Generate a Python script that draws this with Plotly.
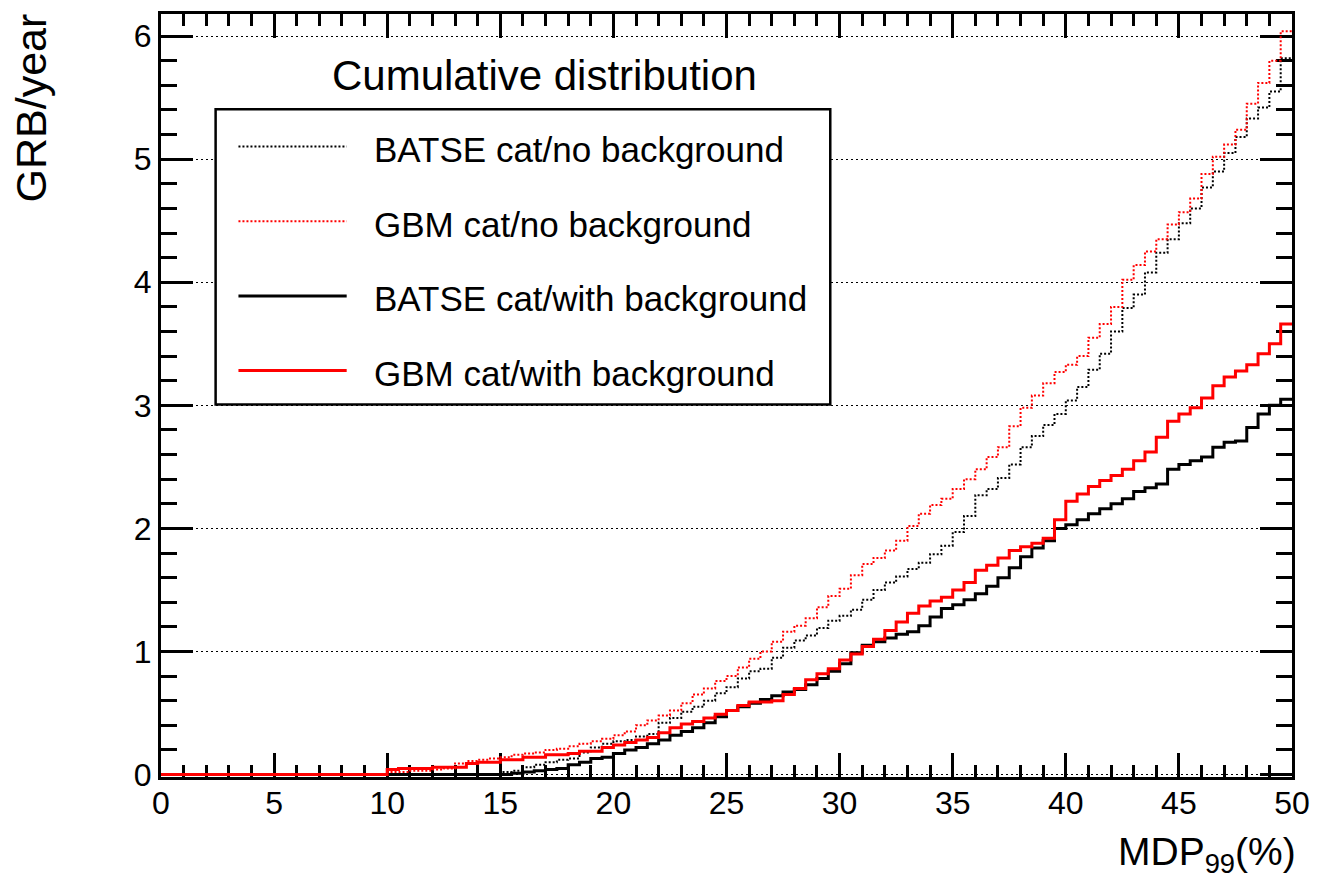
import plotly.graph_objects as go

# ---------------- data ----------------
# lower edges of the 0.5-wide MDP99 bins, 0 ... 49.5
mdp_bin_lo = [0.5 * i for i in range(100)]
mdp_max = 50.0

# BATSE catalogue, no background (black dotted)
batse_nobkg = [
    0.00, 0.00, 0.00, 0.00, 0.00, 0.00, 0.00, 0.00, 0.00, 0.00,
    0.00, 0.00, 0.00, 0.00, 0.00, 0.00, 0.00, 0.00, 0.00, 0.00,
    0.00, 0.00, 0.00, 0.00, 0.00, 0.00, 0.00, 0.00, 0.00, 0.00,
    0.02, 0.03, 0.06, 0.08, 0.10, 0.12, 0.13, 0.18, 0.22, 0.25,
    0.27, 0.28, 0.31, 0.33, 0.42, 0.46, 0.51, 0.55, 0.60, 0.66,
    0.71, 0.78, 0.84, 0.86, 0.95, 1.03, 1.09, 1.13, 1.19, 1.25,
    1.29, 1.34, 1.42, 1.50, 1.56, 1.61, 1.67, 1.72, 1.79, 1.86,
    1.97, 2.10, 2.27, 2.32, 2.41, 2.52, 2.66, 2.75, 2.84, 2.93,
    3.04, 3.15, 3.29, 3.42, 3.60, 3.79, 3.90, 4.08, 4.24, 4.35,
    4.48, 4.60, 4.77, 4.90, 5.05, 5.18, 5.33, 5.42, 5.55, 5.82,
]

# GBM catalogue, no background (red dotted)
gbm_nobkg = [
    0.00, 0.00, 0.00, 0.00, 0.00, 0.00, 0.00, 0.00, 0.00, 0.00,
    0.00, 0.00, 0.00, 0.00, 0.00, 0.00, 0.00, 0.00, 0.00, 0.00,
    0.02, 0.02, 0.03, 0.03, 0.04, 0.05, 0.09, 0.11, 0.12, 0.13,
    0.14, 0.16, 0.17, 0.18, 0.20, 0.21, 0.23, 0.25, 0.27, 0.29,
    0.32, 0.35, 0.40, 0.44, 0.48, 0.52, 0.58, 0.65, 0.70, 0.76,
    0.80, 0.87, 0.94, 1.00, 1.08, 1.16, 1.21, 1.27, 1.36, 1.45,
    1.51, 1.62, 1.71, 1.76, 1.82, 1.90, 2.02, 2.12, 2.19, 2.24,
    2.32, 2.40, 2.48, 2.58, 2.66, 2.83, 2.98, 3.08, 3.18, 3.27,
    3.33, 3.40, 3.55, 3.66, 3.80, 4.02, 4.14, 4.25, 4.35, 4.47,
    4.57, 4.68, 4.88, 5.02, 5.12, 5.24, 5.45, 5.62, 5.80, 6.04,
]

# BATSE catalogue, with background (black solid)
batse_bkg = [
    0.00, 0.00, 0.00, 0.00, 0.00, 0.00, 0.00, 0.00, 0.00, 0.00,
    0.00, 0.00, 0.00, 0.00, 0.00, 0.00, 0.00, 0.00, 0.00, 0.00,
    0.00, 0.00, 0.00, 0.00, 0.00, 0.00, 0.00, 0.00, 0.00, 0.00,
    0.00, 0.01, 0.02, 0.03, 0.04, 0.05, 0.08, 0.10, 0.13, 0.14,
    0.17, 0.20, 0.22, 0.25, 0.28, 0.32, 0.35, 0.38, 0.42, 0.47,
    0.52, 0.55, 0.58, 0.61, 0.64, 0.67, 0.69, 0.73, 0.78, 0.84,
    0.90, 0.99, 1.05, 1.08, 1.11, 1.14, 1.16, 1.21, 1.28, 1.35,
    1.38, 1.42, 1.47, 1.53, 1.60, 1.68, 1.77, 1.84, 1.90, 2.00,
    2.03, 2.07, 2.12, 2.16, 2.20, 2.24, 2.30, 2.33, 2.36, 2.48,
    2.52, 2.55, 2.58, 2.66, 2.70, 2.71, 2.82, 2.93, 3.00, 3.05,
]

# GBM catalogue, with background (red solid)
gbm_bkg = [
    0.00, 0.00, 0.00, 0.00, 0.00, 0.00, 0.00, 0.00, 0.00, 0.00,
    0.00, 0.00, 0.00, 0.00, 0.00, 0.00, 0.00, 0.00, 0.00, 0.00,
    0.04, 0.05, 0.05, 0.05, 0.06, 0.06, 0.06, 0.09, 0.10, 0.10,
    0.12, 0.12, 0.14, 0.14, 0.16, 0.16, 0.17, 0.19, 0.19, 0.22,
    0.24, 0.26, 0.28, 0.30, 0.34, 0.38, 0.41, 0.43, 0.46, 0.49,
    0.52, 0.56, 0.59, 0.59, 0.60, 0.65, 0.70, 0.77, 0.82, 0.86,
    0.93, 0.98, 1.04, 1.10, 1.17, 1.24, 1.31, 1.37, 1.41, 1.44,
    1.50, 1.56, 1.66, 1.70, 1.76, 1.82, 1.85, 1.88, 1.92, 2.07,
    2.22, 2.28, 2.34, 2.39, 2.43, 2.48, 2.55, 2.62, 2.74, 2.87,
    2.93, 2.98, 3.06, 3.16, 3.23, 3.28, 3.33, 3.42, 3.50, 3.66,
]

series_names = [
    "BATSE cat/no background",
    "GBM cat/no background",
    "BATSE cat/with background",
    "GBM cat/with background",
]
x_title = "MDP<sub>99</sub>(%)"
y_title = "GRB/year"
plot_title = "Cumulative distribution"
x_ticks = [0, 5, 10, 15, 20, 25, 30, 35, 40, 45, 50]
y_ticks = [0, 1, 2, 3, 4, 5, 6]

# ---------------- figure ----------------
W, H = 1321, 891
ML, MR, MT, MB = 161, 21, 11, 114
PW, PH = W - ML - MR, H - MT - MB
FONT = "Liberation Sans, Arial, Helvetica, sans-serif"


def px_x(px):
    return (px - ML) / PW


def px_y(py):
    return (H - MB - py) / PH


styles = [
    dict(color="#000000", width=2, dash="2px,2px"),
    dict(color="#ff0000", width=2, dash="2px,2px"),
    dict(color="#000000", width=3, dash="solid"),
    dict(color="#ff0000", width=3, dash="solid"),
]
all_series = [batse_nobkg, gbm_nobkg, batse_bkg, gbm_bkg]

fig = go.Figure()
xs = mdp_bin_lo + [mdp_max]
for name, vals, st in zip(series_names, all_series, styles):
    fig.add_trace(go.Scatter(
        x=xs, y=vals + [vals[-1]], mode="lines", name=name,
        line=dict(shape="hv", **st), showlegend=False, hoverinfo="skip",
    ))

axis_common = dict(
    showline=True, linecolor="black", linewidth=3, mirror="allticks",
    ticks="inside", tickcolor="black", tickwidth=2.5,
    zeroline=False, layer="below traces",
    tickfont=dict(family=FONT, size=32, color="black"),
)

fig.update_xaxes(
    range=[0, 50], tickvals=x_ticks, ticklen=24, showgrid=False,
    ticklabelstandoff=-4,
    minor=dict(ticks="inside", dtick=1, ticklen=12, tickwidth=2.5,
               tickcolor="black", showgrid=False),
    **axis_common,
)
fig.update_yaxes(
    range=[-0.02, 6.18], tickvals=y_ticks, ticklen=32,
    showgrid=True, gridcolor="black", gridwidth=1, griddash="2px,3px",
    minor=dict(ticks="inside", dtick=0.2, ticklen=16, tickwidth=2.5,
               tickcolor="black", showgrid=False),
    **axis_common,
)

# ----- legend box (drawn by hand to match the ROOT style) -----
shapes = [dict(
    type="rect", xref="paper", yref="paper",
    x0=px_x(216), x1=px_x(835), y0=px_y(403), y1=px_y(106.5),
    line=dict(color="black", width=2.5), fillcolor="white", layer="above",
)]
annotations = []
row_y = [144, 219, 294, 369]
for name, st, ry in zip(series_names, styles, row_y):
    shapes.append(dict(
        type="line", xref="paper", yref="paper",
        x0=px_x(239), x1=px_x(348), y0=px_y(ry), y1=px_y(ry),
        line=dict(color=st["color"], width=st["width"], dash=st["dash"]),
        layer="above",
    ))
    annotations.append(dict(
        text=name, xref="paper", yref="paper", x=px_x(373), y=px_y(ry + 3),
        xanchor="left", yanchor="middle", showarrow=False,
        font=dict(family=FONT, size=35, color="black"),
    ))

annotations.append(dict(
    text=plot_title, xref="paper", yref="paper", x=px_x(547), y=px_y(73),
    xanchor="center", yanchor="middle", showarrow=False,
    font=dict(family=FONT, size=42, color="black"),
))
annotations.append(dict(
    text=y_title, xref="paper", yref="paper", x=px_x(30), y=px_y(8),
    xanchor="center", yanchor="top", textangle=-90, showarrow=False,
    font=dict(family=FONT, size=43, color="black"),
))
annotations.append(dict(
    text=x_title, xref="paper", yref="paper", x=px_x(1306), y=px_y(881),
    xanchor="right", yanchor="bottom", showarrow=False,
    font=dict(family=FONT, size=39, color="black"),
))

fig.update_layout(
    width=W, height=H, autosize=False,
    margin=dict(l=ML, r=MR, t=MT, b=MB),
    paper_bgcolor="white", plot_bgcolor="white",
    showlegend=False, shapes=shapes, annotations=annotations,
)

fig.write_html("out.html")
